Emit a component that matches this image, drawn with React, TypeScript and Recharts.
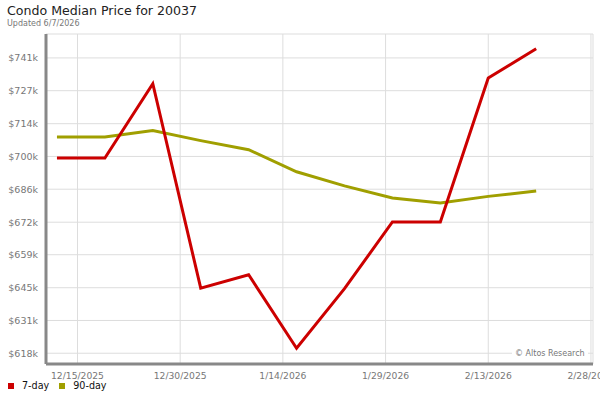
import { CartesianGrid, Line, LineChart, ReferenceLine, XAxis, YAxis } from "recharts"

// weekly sample dates (both series share them)
const weeks = [
  "12/12/2025", "12/19/2025", "12/26/2025", "1/2/2026", "1/9/2026", "1/16/2026",
  "1/23/2026", "1/30/2026", "2/6/2026", "2/13/2026", "2/20/2026",
]

// median price, $k
const sevenDay = [699.2, 699.2, 730.3, 644.8, 650.4, 619.7, 644.6, 672.5, 672.5, 732.7, 744.9]
const ninetyDay = [708.0, 708.0, 710.7, 706.5, 702.7, 693.5, 687.6, 682.5, 680.4, 683.2, 685.4]

const xTickLabels = ["12/15/2025", "12/30/2025", "1/14/2026", "1/29/2026", "2/13/2026", "2/28/2026"]
const yTicks = [617.6, 631.3, 645.0, 658.8, 672.4, 686.2, 699.9, 713.6, 727.4, 741.1]

const origin = Date.UTC(2025, 11, 15)
const dayOf = (s: string) => {
  const [m, d, y] = s.split("/").map(Number)
  return Math.round((Date.UTC(y, m - 1, d) - origin) / 86400000)
}

const xTicks = xTickLabels.map(dayOf)
const xDomain: [number, number] = [-4.6, 75.3]
const yDomain: [number, number] = [613.1, 751.1]

const data = weeks.map((w, i) => ({ day: dayOf(w), d7: sevenDay[i], d90: ninetyDay[i] }))

const fmtDate = (v: number) => xTickLabels[xTicks.indexOf(v)] ?? ""

const RED = "#cc0000"
const OLIVE = "#a09f00"

export default function App() {
  return (
    <div
      style={{
        position: "absolute",
        left: 0,
        top: 0,
        width: 600,
        height: 400,
        background: "#fff",
        fontFamily: "'DejaVu Sans', sans-serif",
        overflow: "hidden",
      }}
    >
      <div style={{ position: "absolute", left: 7, top: 3, fontSize: 12.6, color: "#222" }}>
        Condo Median Price for 20037
      </div>
      <div style={{ position: "absolute", left: 7, top: 19, fontSize: 8, color: "#777" }}>
        Updated 6/7/2026
      </div>

      <LineChart width={600} height={400} data={data} margin={{ top: 34, right: 7, bottom: 0, left: 0 }}>
        <CartesianGrid stroke="#dddddd" horizontalValues={yTicks} verticalValues={xTicks} />
        <ReferenceLine y={yDomain[1]} stroke="#dddddd" />
        <ReferenceLine x={xDomain[1]} stroke="#dddddd" />
        <XAxis
          dataKey="day"
          type="number"
          domain={xDomain}
          allowDataOverflow
          ticks={xTicks}
          interval={0}
          tickFormatter={fmtDate}
          tickLine={false}
          axisLine={{ stroke: "#888", strokeWidth: 3 }}
          tick={{ fill: "#777", fontSize: 9.2 }}
          height={36}
        />
        <YAxis
          type="number"
          domain={yDomain}
          allowDataOverflow
          ticks={yTicks}
          interval={0}
          tickFormatter={(v) => `$${Math.round(Number(v))}k`}
          tickLine={false}
          axisLine={{ stroke: "#888", strokeWidth: 3 }}
          tick={{ fill: "#777", fontSize: 9.5 }}
          width={46}
        />
        <Line type="linear" dataKey="d90" stroke={OLIVE} strokeWidth={3} dot={false} isAnimationActive={false} />
        <Line type="linear" dataKey="d7" stroke={RED} strokeWidth={3} dot={false} isAnimationActive={false} />
      </LineChart>

      <div
        style={{
          position: "absolute",
          left: 512,
          top: 348,
          padding: "0 3px",
          background: "#fff",
          fontSize: 8,
          color: "#777",
          lineHeight: "11px",
        }}
      >
        © Altos Research
      </div>

      <div style={{ position: "absolute", left: 8, top: 380, fontSize: 9.6, color: "#111", display: "flex", alignItems: "center" }}>
        <span style={{ width: 6, height: 6, background: RED, display: "inline-block", marginRight: 8 }} />
        <span style={{ marginRight: 10 }}>7-day</span>
        <span style={{ width: 6, height: 6, background: OLIVE, display: "inline-block", marginRight: 8 }} />
        <span>90-day</span>
      </div>
    </div>
  )
}
